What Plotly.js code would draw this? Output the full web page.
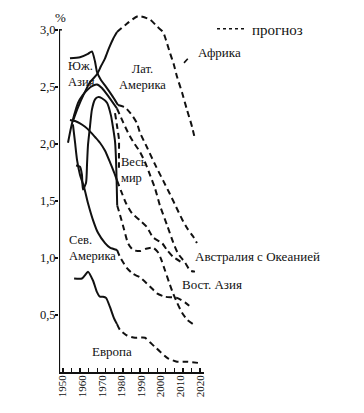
<!DOCTYPE html>
<html><head><meta charset="utf-8">
<script src="https://cdn.plot.ly/plotly-3.0.1.min.js"></script>
<style>html,body{margin:0;padding:0;background:#fff}#chart{width:364px;height:413px}</style>
</head><body><div id="chart"></div>
<script>
// ---- data (growth rate, % per year) ----
const africaYears = [1955.1,1957.7,1960.8,1963.8,1967.4,1969.4,1971.5,1973.5,1975.6,1977.6];
const africaRate  = [2.20,2.32,2.44,2.54,2.61,2.68,2.75,2.84,2.92,2.98];
const africaFcYears = [1977.6,1981.7,1988.3,1994.4,1998.0,2001.1,2002.6,2004.6,2006.7,2008.2,2010.8,2013.3,2015.9,2017.4];
const africaFc      = [2.98,3.04,3.12,3.09,3.03,2.98,2.91,2.80,2.69,2.59,2.45,2.30,2.15,2.04];

const latamYears = [1953.6,1958.7,1962.8,1964.8,1966.4,1967.4,1969.4,1972.0,1975.6,1978.1];
const latamRate  = [2.75,2.76,2.79,2.81,2.72,2.63,2.56,2.50,2.41,2.34];
const latamFcYears = [1978.1,1981.7,1985.3,1987.8,1989.3,1992.9,1997.0,2001.1,2004.6,2007.7,2010.8,2013.8,2016.4,2018.4];
const latamFc      = [2.34,2.32,2.25,2.18,2.10,1.97,1.82,1.68,1.56,1.45,1.34,1.25,1.19,1.13];

const sasiaYears = [1952.6,1954.1,1955.7,1957.7,1960.2,1962.8,1965.4,1967.4,1969.9,1973.5,1977.6];
const sasiaRate  = [2.01,2.14,2.25,2.36,2.43,2.48,2.51,2.52,2.49,2.41,2.31];
const sasiaFcYears = [1977.6,1980.7,1983.2,1985.8,1989.3,1991.9,1994.4,1997.0,1999.5,2003.1,2006.2,2008.7,2012.3,2014.9,2017.4];
const sasiaFc      = [2.31,2.19,2.10,2.02,1.93,1.84,1.73,1.61,1.46,1.29,1.14,1.04,0.96,0.89,0.88];

const oceaniaFcYears = [1976.6,1977.6,1978.6,1978.6,1978.6];
const oceaniaFc      = [2.27,2.16,2.04,1.90,1.79];

const worldYears = [1953.6,1956.2,1958.7,1961.3,1963.8,1966.4,1968.9,1971.5,1974.0,1976.1,1977.6];
const worldRate  = [2.21,2.20,2.18,2.15,2.11,2.06,2.01,1.94,1.84,1.75,1.68];
const worldFcYears = [1977.6,1979.6,1982.2,1985.3,1989.3,1992.9,1996.0,2000.6,2003.1,2006.2,2010.8];
const worldFc      = [1.68,1.59,1.48,1.39,1.33,1.27,1.18,1.13,1.07,1.01,0.96];

const eastasiaYears = [1956.7,1958.7,1959.7,1960.2,1961.8,1962.3,1962.8,1963.8,1964.8,1966.4,1967.9,1969.9,1972.5,1974.5,1975.6,1976.6,1977.1,1977.4,1977.7];
const eastasiaRate  = [1.81,1.80,1.73,1.60,1.66,1.82,1.99,2.15,2.30,2.39,2.41,2.40,2.36,2.25,2.14,2.02,1.86,1.68,1.46];
const eastasiaFcYears = [1977.7,1979.1,1981.2,1983.2,1985.8,1989.3,1992.4,1996.0,1998.5,2000.1,2002.1,2004.1,2006.2,2008.2,2010.8,2013.3,2016.4];
const eastasiaFc      = [1.46,1.38,1.25,1.13,1.07,1.06,1.08,1.09,1.05,0.99,0.89,0.79,0.69,0.61,0.52,0.46,0.42];

const namericaYears = [1955.1,1956.2,1957.2,1958.7,1960.8,1962.8,1965.4,1967.9,1971.5,1974.0,1977.6];
const namericaRate  = [2.17,2.01,1.86,1.73,1.62,1.48,1.33,1.22,1.13,1.09,1.07];
const namericaFcYears = [1977.6,1979.1,1982.7,1985.8,1989.3,1994.4,1998.0,2002.1,2008.2,2012.3,2015.9];
const namericaFc      = [1.07,1.01,0.91,0.86,0.83,0.75,0.69,0.66,0.65,0.61,0.56];

const europeYears = [1955.7,1959.7,1961.8,1962.8,1965.4,1967.4,1968.9,1970.5,1972.0,1974.0,1976.1,1977.6];
const europeRate  = [0.82,0.82,0.86,0.88,0.80,0.70,0.66,0.66,0.65,0.57,0.47,0.42];
const europeFcYears = [1977.6,1979.1,1982.7,1986.8,1991.9,1994.4,1997.0,1999.5,2003.6,2008.2,2013.3,2018.9];
const europeFc      = [0.42,0.37,0.32,0.30,0.30,0.26,0.22,0.18,0.12,0.09,0.09,0.08];

const yTickVals = [0.5,1.0,1.5,2.0,2.5,3.0];
const yTickText = ['0,5','1,0','1,5','2,0','2,5','3,0'];
const xTickVals = [1950,1960,1970,1980,1990,2000,2010,2020];
const xTickText = ['1950','1960','1970','1980','1990','2000','2010','2020'];
const legendLabel = 'прогноз';

// ---- traces ----
const INK = '#111';
const DASH = '6px,4px';
function solid(x, y){ return {x, y, type:'scatter', mode:'lines', showlegend:false, hoverinfo:'skip',
  line:{color:INK, width:2, shape:'spline', smoothing:0.6}}; }
function fc(x, y){ return {x, y, type:'scatter', mode:'lines', showlegend:false, hoverinfo:'skip',
  line:{color:INK, width:2, dash:DASH, shape:'spline', smoothing:0.6}}; }

const traces = [
  solid(africaYears, africaRate), fc(africaFcYears, africaFc),
  solid(latamYears, latamRate), fc(latamFcYears, latamFc),
  solid(sasiaYears, sasiaRate), fc(sasiaFcYears, sasiaFc),
  fc(oceaniaFcYears, oceaniaFc),
  solid(worldYears, worldRate), fc(worldFcYears, worldFc),
  solid(eastasiaYears, eastasiaRate), fc(eastasiaFcYears, eastasiaFc),
  solid(namericaYears, namericaRate), fc(namericaFcYears, namericaFc),
  solid(europeYears, europeRate), fc(europeFcYears, europeFc),
  {x:[null], y:[null], xaxis:'x2', type:'scatter', mode:'lines', name:legendLabel, showlegend:true,
   line:{color:INK, width:1.5, dash:'3px,3px'}}
];

const F = "'Liberation Serif', 'Times New Roman', serif";
function lab(text, x, y, size, anchor, align){
  return {text, x, y, xref:'x', yref:'y', showarrow:false, xanchor:anchor||'left', yanchor:'middle',
    align:align||'left', font:{family:F, size:size||13, color:INK}};
}
const annotations = [
  lab('%', 1949.0, 3.11, 13, 'center'),
  lab('Юж.<br>Азия', 1951.8, 2.61, 12.5),
  lab('Лат.<br>Америка', 1990.4, 2.59, 12.5, 'center', 'center'),
  lab('Весь<br>мир', 1978.7, 1.775, 12.5),
  lab('Сев.<br>Америка', 1952.0, 1.085, 12.5),
  lab('Европа', 1963.8, 0.18),
  lab('Африка', 2017.9, 2.80),
  lab('Австралия с Океанией', 2016.4, 1.01),
  lab('Вост. Азия', 2009.8, 0.77),
  lab('ГОДЫ', 2026.6, 0.035, 12),
  {text:'', x:2011.8, y:2.71, ax:2014.4, ay:2.76, xref:'x', yref:'y', axref:'x', ayref:'y',
   showarrow:true, arrowhead:0, arrowwidth:1.6, arrowcolor:INK, standoff:0, startstandoff:0}
];

const layout = {
  width:364, height:413,
  margin:{l:59, r:160, t:7, b:41, pad:0},
  paper_bgcolor:'#fff', plot_bgcolor:'#fff',
  showlegend:true,
  legend:{x:1.055, y:0.94, xanchor:'left', yanchor:'middle', bgcolor:'rgba(0,0,0,0)',
    font:{family:F, size:15, color:INK}, itemwidth:30, tracegroupgap:0},
  xaxis:{range:[1948,2022], showgrid:false, zeroline:false, showline:true, linecolor:INK, linewidth:2,
    tickmode:'linear', tick0:1950, dtick:4.375, ticks:'inside', ticklen:4, tickwidth:1.3, tickcolor:INK,
    showticklabels:false, fixedrange:true},
  xaxis2:{range:[1948,2022], overlaying:'x', anchor:'y', side:'bottom', showgrid:false, zeroline:false,
    showline:false, tickvals:xTickVals, ticktext:xTickText, ticks:'', tickangle:-90,
    tickfont:{family:F, size:11, color:INK}, fixedrange:true},
  yaxis:{range:[0,3.2], showgrid:false, zeroline:false, showline:false,
    tickvals:yTickVals, ticktext:yTickText, ticks:'outside', ticklen:3, tickwidth:1.5, tickcolor:INK,
    ticklabelstandoff:-3,
    tickfont:{family:F, size:12.5, color:INK}, fixedrange:true},
  shapes:[{type:'line', xref:'x', yref:'y', x0:1948, x1:1948, y0:0, y1:3.0, line:{color:INK, width:2.2}},
          {type:'line', xref:'x', yref:'y', x0:1948, x1:1949.5, y0:3.0, y1:3.0, line:{color:INK, width:1.5}}],
  annotations
};
Plotly.newPlot('chart', traces, layout, {staticPlot:true, displayModeBar:false});
</script></body></html>
